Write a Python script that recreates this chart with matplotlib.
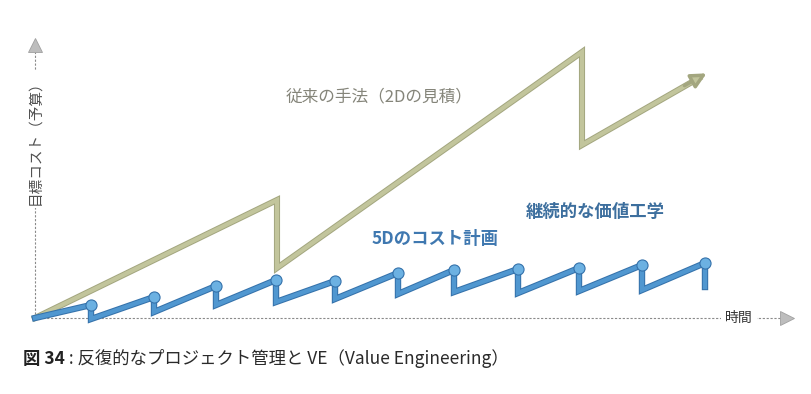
import matplotlib
matplotlib.use("Agg")
import matplotlib.pyplot as plt
import matplotlib.patheffects as pe

plt.rcParams['font.family'] = ['Noto Sans CJK JP', 'DejaVu Sans']

# traditional approach (2D estimate): time vs cost
green_t = [0, 242, 242, 547, 547, 674]
green_cost = [0, 118, 50, 266, 173, 246]

# 5D cost planning: peaks (review points) and the value-engineered reset after each
blue_t = [56, 119, 181, 241, 300, 363, 419, 483, 544, 607, 670]
blue_peak = [13, 21, 32, 38, 37, 45, 48, 49, 50, 53, 55]
blue_reset = [-1, 6, 13, 16, 19, 24, 26, 25, 27, 28, 31]

GREEN = "#c2c59c"
GREEN_DARK = "#a3a67f"
BLUE = "#5097d0"
BLUE_DARK = "#3572ab"
MARK = "#6cb1e2"

fig = plt.figure(figsize=(8.12, 3.94), dpi=100)
ax = fig.add_axes([0, 0, 1, 1])
ax.set_xlim(-35, 777)
ax.set_ylim(-76, 318)
ax.axis('off')

# axes (dashed) with arrows
ax.plot([0, 0], [0, 266], ls=(0, (2, 1.5)), color="#8a8a8a", lw=0.8, zorder=1)
ax.plot([0, 745], [0, 0], ls=(0, (2, 1.5)), color="#8a8a8a", lw=0.8, zorder=1)
ax.plot([0], [273], marker='^', ms=10, color="#bdbdbd", mec="#a0a0a0", mew=0.6, zorder=2)
ax.plot([752], [0], marker='>', ms=10, color="#bdbdbd", mec="#a0a0a0", mew=0.6, zorder=2)

ax.text(0, 179, "目標コスト（予算）", rotation=90, ha='center', va='center',
        fontsize=10.5, color="#505050", zorder=3,
        bbox=dict(facecolor='white', edgecolor='none', pad=2))
ax.text(704, 0, "時間", ha='center', va='center', fontsize=10, color="#333333",
        zorder=3, bbox=dict(facecolor='white', edgecolor='none', pad=3))

# green line
outline_g = [pe.Stroke(linewidth=4.4, foreground=GREEN_DARK), pe.Normal()]
ax.plot(green_t[:-1] + [green_t[-1] - 10], green_cost[:-1] + [green_cost[-1] - 6],
        color=GREEN, lw=3, solid_joinstyle='miter', path_effects=outline_g, zorder=4)
ax.annotate("", xy=(green_t[-1], green_cost[-1]), xytext=(green_t[-2] + 100, green_cost[-2] + 58),
            arrowprops=dict(arrowstyle='-|>,head_length=0.9,head_width=0.45',
                            lw=2.5, ec=GREEN_DARK, fc=GREEN),
            zorder=4)

# blue sawtooth
bx = [0]
by = [0]
for t, p, r in zip(blue_t, blue_peak, blue_reset):
    bx += [t, t]
    by += [p, r]
outline_b = [pe.Stroke(linewidth=4.6, foreground=BLUE_DARK), pe.Normal()]
ax.plot(bx, by, color=BLUE, lw=3.1, solid_joinstyle='miter', path_effects=outline_b, zorder=5)
ax.plot(blue_t, blue_peak, 'o', ms=8, color=MARK, mec=BLUE_DARK, mew=0.8, zorder=6)

# labels
ax.text(344, 221, "従来の手法（2Dの見積）", ha='center', va='center', fontsize=12,
        color="#85857a")
ax.text(560, 106, "継続的な価値工学", ha='center', va='center', fontsize=12.5,
        color="#3d6f9e", fontweight='bold')
ax.text(400, 79, "5Dのコスト計画", ha='center', va='center', fontsize=12.5,
        color="#3f78b0", fontweight='bold')

# caption: bold figure number, regular remainder placed right after it
t1 = fig.text(23 / 812, 1 - 368 / 394, "図 34", fontsize=12.5, fontweight='bold',
              color="#222222", va='bottom', ha='left')
ax.annotate(" : 反復的なプロジェクト管理と VE（Value Engineering）", xy=(1, 0),
            xycoords=t1, va='bottom', ha='left', fontsize=12.5, color="#2a2a2a",
            annotation_clip=False)

fig.savefig("out.png", dpi=100)
